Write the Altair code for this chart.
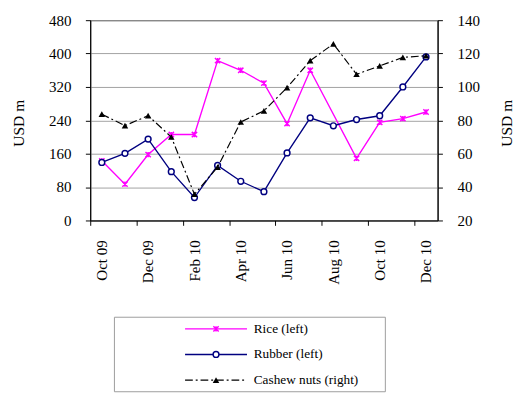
import json
import altair as alt
import pandas as pd

months = ["Oct 09", "Nov 09", "Dec 09", "Jan 10", "Feb 10", "Mar 10", "Apr 10", "May 10",
          "Jun 10", "Jul 10", "Aug 10", "Sep 10", "Oct 10", "Nov 10", "Dec 10"]
rice = [143, 87, 158, 206, 206, 383, 360, 329, 232, 360, None, 149, 235, 244, 260]
rubber = [139, 161, 195, 117, 55, 132, 94, 69, 162, 246, 227, 242, 251, 320, 392]
cashew = [83.7, 76.8, 82.8, 70.0, 35.7, 52.0, 79.0, 85.7, 99.6, 115.8, 125.8, 107.6, 112.6, 117.7, 118.7]
series_names = ["Rice (left)", "Rubber (left)", "Cashew nuts (right)"]
left_ticks = [0, 80, 160, 240, 320, 400, 480]
right_ticks = [20, 40, 60, 80, 100, 120, 140]

FONT = "Liberation Serif"
RICE_C = "#ff00ff"
RUB_C = "#000080"
CASH_C = "#000000"
STAR = "M-1,-1L1,1M-1,1L1,-1M0,-1L0,1"
DASH = [8, 3, 2, 3]


def frame(vals):
    rows = [{"idx": i, "month": m, "value": v} for i, (m, v) in enumerate(zip(months, vals)) if v is not None]
    return pd.DataFrame(rows)


df_rice = frame(rice)
df_rub = frame(rubber)
df_cash = frame(cashew)

label_expr = json.dumps(months) + "[round(datum.value + 0.5)]"
x_enc = alt.X(
    "idx:Q",
    scale=alt.Scale(domain=[-0.5, len(months) - 0.5], nice=False, zero=False),
    axis=alt.Axis(
        values=[-0.5 + 2 * k for k in range((len(months) + 1) // 2)],
        labelExpr=label_expr,
        labelAngle=270,
        labelOffset=12,
        labelPadding=15,
        labelFlush=False,
        labelOverlap=False,
        tickSize=5,
        grid=False,
        title=None,
    ),
)

y_left = alt.Y(
    "value:Q",
    scale=alt.Scale(domain=[left_ticks[0], left_ticks[-1]], nice=False, zero=False),
    axis=alt.Axis(values=left_ticks, title="USD m", grid=True, gridColor="#a0a0a0",
                  tickSize=5, labelPadding=15, titleAngle=270, titleX=-74, titleY=106,
                  titleBaseline="middle", titleAlign="center"),
)
y_right = alt.Y(
    "value:Q",
    scale=alt.Scale(domain=[right_ticks[0], right_ticks[-1]], nice=False, zero=False),
    axis=alt.Axis(values=right_ticks, title="USD m", orient="right", grid=False,
                  tickSize=5, labelPadding=15, titleAngle=270, titleX=71, titleY=106,
                  titleBaseline="middle", titleAlign="center"),
)

rice_line = alt.Chart(df_rice).mark_line(color=RICE_C, strokeWidth=1.4).encode(x=x_enc, y=y_left)
rice_pts = alt.Chart(df_rice).mark_point(shape=STAR, size=30, filled=False, color=RICE_C,
                                         strokeWidth=1.5, opacity=1).encode(x=x_enc, y=y_left)
rub_line = alt.Chart(df_rub).mark_line(color=RUB_C, strokeWidth=1.4).encode(x=x_enc, y=y_left)
rub_pts = alt.Chart(df_rub).mark_point(shape="circle", size=36, filled=True, fill="white",
                                       stroke=RUB_C, strokeWidth=1.5, opacity=1).encode(x=x_enc, y=y_left)
cash_line = alt.Chart(df_cash).mark_line(color=CASH_C, strokeWidth=1.2, strokeDash=DASH).encode(x=x_enc, y=y_right)
cash_pts = alt.Chart(df_cash).mark_point(shape="triangle-up", size=45, filled=True, color=CASH_C,
                                         opacity=1).encode(x=x_enc, y=y_right)

left = alt.layer(rice_line, rice_pts, rub_line, rub_pts)
right = alt.layer(cash_line, cash_pts)

# legend drawn as marks below the plot
legend_layers = []
box_df = pd.DataFrame({"name": [series_names[0]]})
legend_layers.append(
    alt.Chart(box_df).mark_rect(fillOpacity=0, stroke="#9a9a9a", strokeWidth=1).encode(
        x=alt.value(25), x2=alt.value(305), y=alt.value(307), y2=alt.value(384))
)
styles = [
    dict(line=dict(color=RICE_C, strokeWidth=1.4),
         pt=dict(shape=STAR, size=30, filled=False, color=RICE_C, strokeWidth=1.5, opacity=1)),
    dict(line=dict(color=RUB_C, strokeWidth=1.4),
         pt=dict(shape="circle", size=36, filled=True, fill="white", stroke=RUB_C, strokeWidth=1.5, opacity=1)),
    dict(line=dict(color=CASH_C, strokeWidth=1.2, strokeDash=DASH),
         pt=dict(shape="triangle-up", size=45, filled=True, color=CASH_C, opacity=1)),
]
for i, name in enumerate(series_names):
    d = pd.DataFrame({"name": [name]})
    yy = 319 + 26.5 * i
    legend_layers.append(alt.Chart(d).mark_rule(**styles[i]["line"]).encode(
        x=alt.value(98), x2=alt.value(162), y=alt.value(yy)))
    legend_layers.append(alt.Chart(d).mark_point(**styles[i]["pt"]).encode(
        x=alt.value(130), y=alt.value(yy)))
    legend_layers.append(alt.Chart(d).mark_text(align="left", baseline="middle", font=FONT,
                                                fontSize=13.7, color="black").encode(
        x=alt.value(169), y=alt.value(yy), text="name:N"))

chart = (
    alt.layer(left, right, *legend_layers)
    .resolve_scale(y="independent")
    .properties(
        width=359,
        height=207,
        padding={"left": 85, "top": 6, "right": 80, "bottom": 181},
        autosize=alt.AutoSizeParams(type="none"),
        background="white",
    )
    .configure_view(stroke="black", strokeWidth=1)
    .configure_axis(
        labelFont=FONT, titleFont=FONT, labelFontSize=15.5, titleFontSize=16,
        titleFontWeight="normal", labelColor="black", titleColor="black",
        domainColor="black", tickColor="black", domainWidth=1, tickWidth=1,
    )
)

chart.save("out.html", embed_options={"renderer": "svg", "actions": False})
